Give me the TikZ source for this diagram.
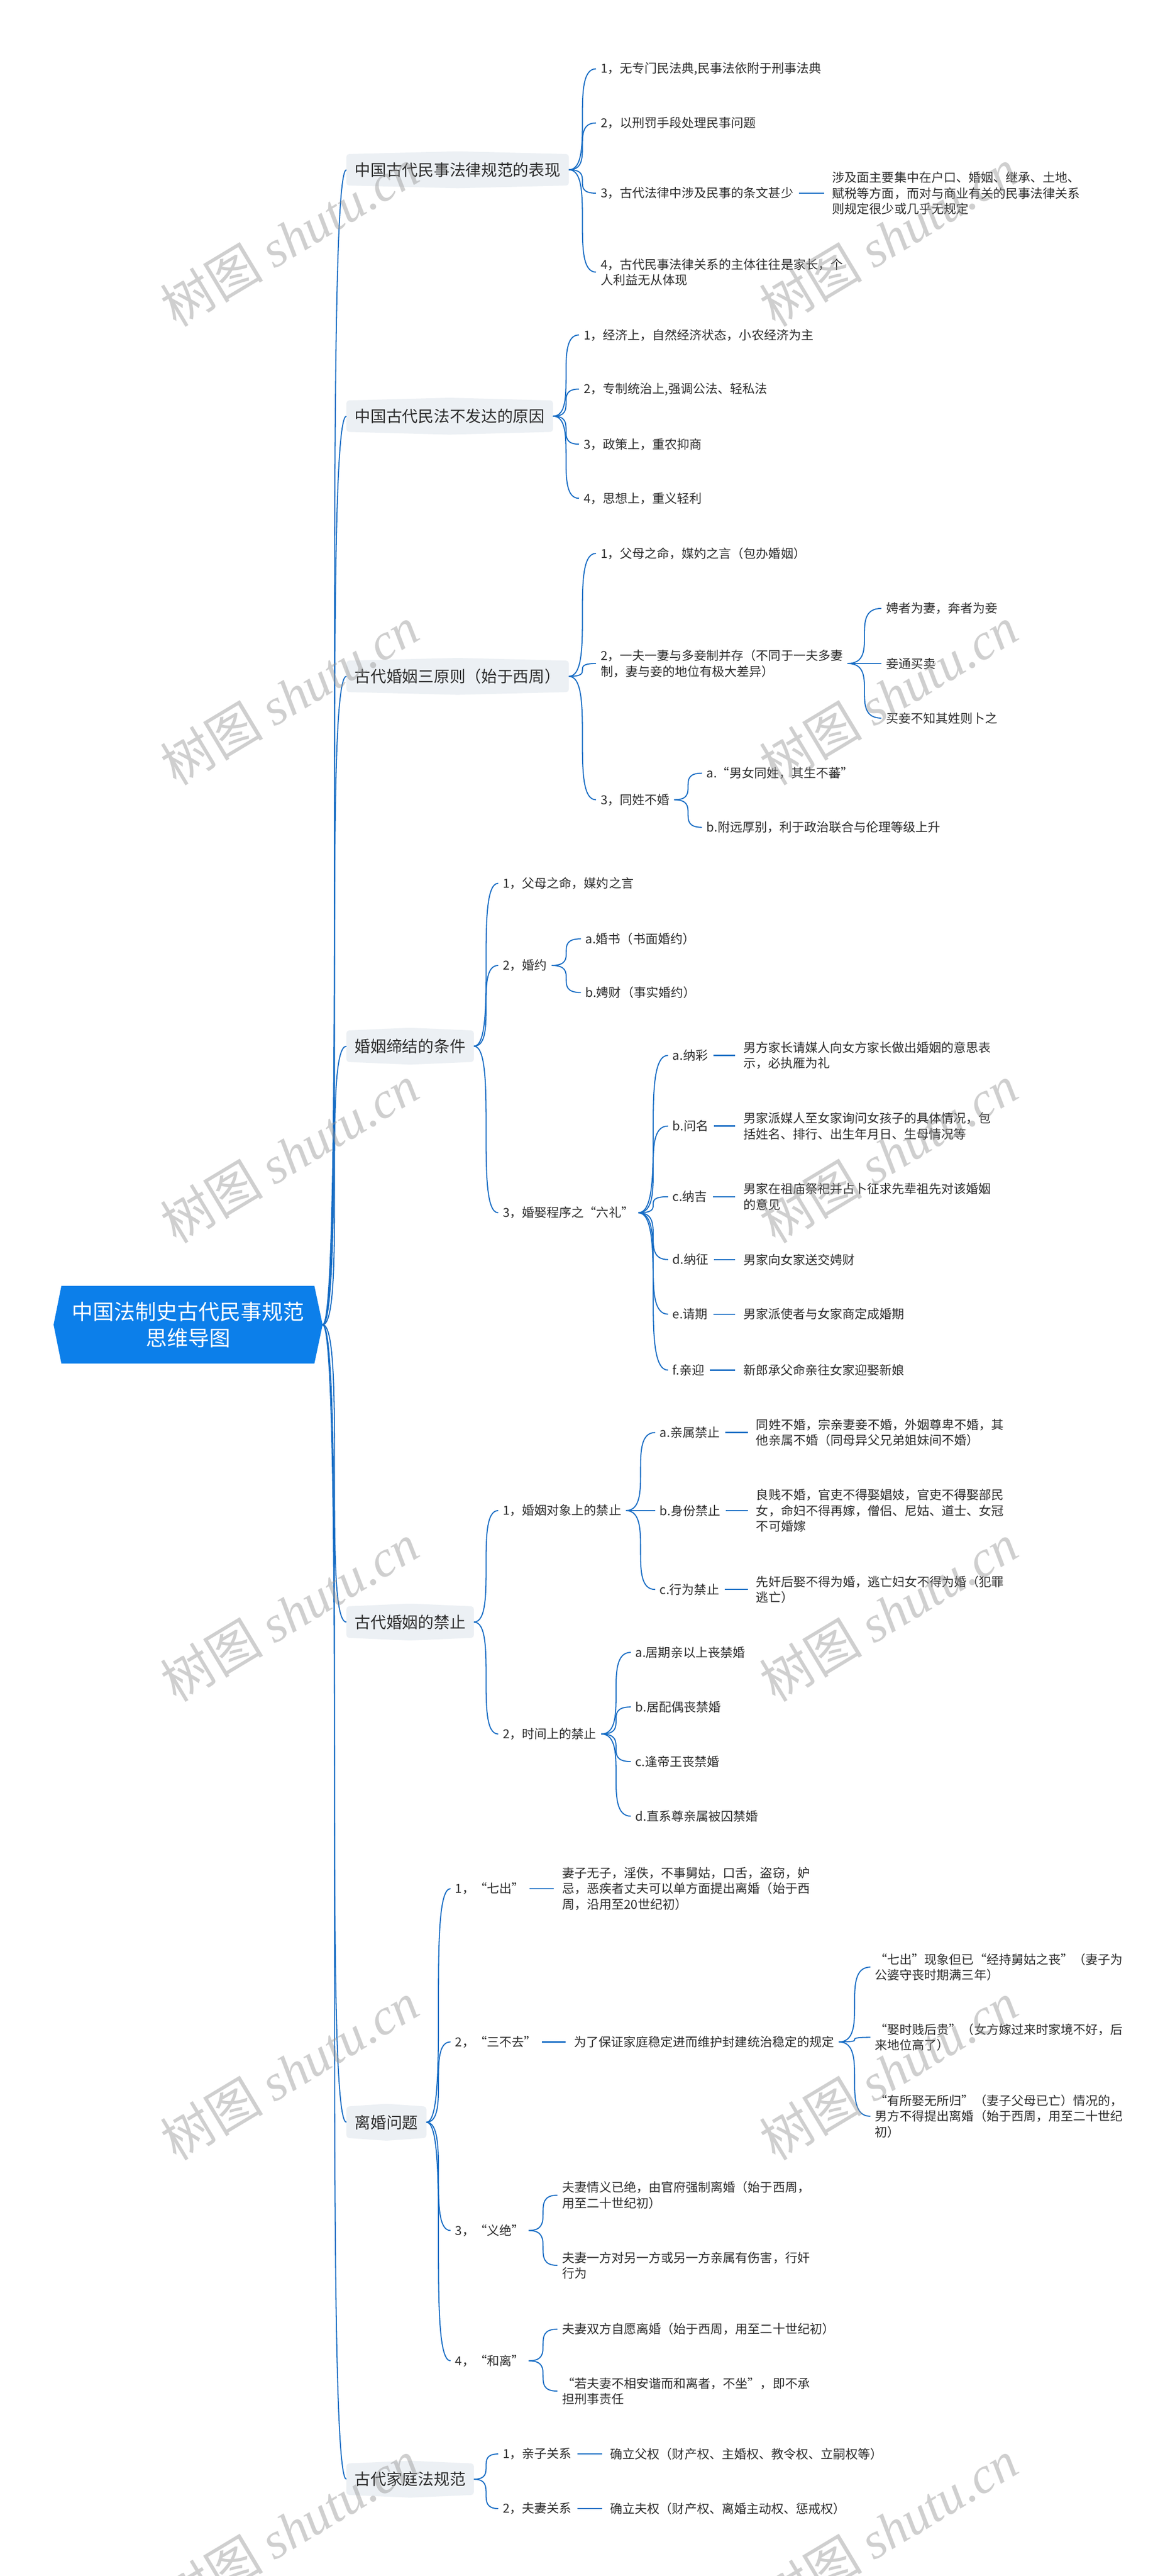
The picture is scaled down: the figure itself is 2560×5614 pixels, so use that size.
\documentclass[tikz,border=0pt]{standalone}
\usepackage{fontspec}
\setmainfont{Noto Sans CJK SC}
\newfontfamily\wmlat{Liberation Serif}
\usetikzlibrary{calc,backgrounds}
\definecolor{rootblue}{RGB}{12,127,234}
\definecolor{linkblue}{RGB}{22,108,196}
\definecolor{lonefill}{RGB}{236,240,244}
\definecolor{txt}{RGB}{45,45,45}
\definecolor{wm}{RGB}{150,150,150}
\tikzset{
  rootnode/.style={inner sep=0pt, minimum width=586pt, minimum height=169pt, text=white, align=center, font=\fontsize{46}{58}\selectfont},
  lone/.style={anchor=west, inner xsep=18pt, inner ysep=0pt, minimum height=68pt, text=txt, font=\fontsize{34.5}{42}\selectfont},
  ltwo/.style={anchor=west, inner xsep=10pt, inner ysep=3pt, text=txt, align=left, font=\fontsize{27}{34}\selectfont},
  conn/.style={draw=linkblue, line width=2.3pt},
  dline/.style={draw=linkblue, line width=2.8pt},
  wmark/.style={text=wm, opacity=0.45, rotate=31, inner sep=0pt}
}
\newcommand\cnx[2]{\draw[conn] let \p1=(#1.east), \p2=(#2.west) in (\p1) .. controls (\x2,\y1) and (\x1,\y2) .. (\p2);}
\newcommand\dln[2]{\draw[dline] let \p1=(#1.east), \p2=(#2.west) in (\x1+2pt,\y1) -- (\x2-8pt,\y1);}
\newcommand\hexbox[1]{\path[fill=lonefill, rounded corners=6pt] (#1.north west) -- ($(#1.north)+(0pt,6pt)$) -- (#1.north east) -- (#1.south east) -- ($(#1.south)+(0pt,-6pt)$) -- (#1.south west) -- cycle;}
\newcommand\wmtext{{\fontsize{112}{112}\selectfont 树图 {\wmlat\itshape shutu.cn}}}
\begin{document}
\begin{tikzpicture}[x=1pt,y=-1pt]
\useasboundingbox (0,0) rectangle (2560,5614);
\begin{pgfonlayer}{background}
\fill[white] (0,0) rectangle (2560,5614);
\end{pgfonlayer}

% root
\node[rootnode] (root) at (410,2887) {中国法制史古代民事规范\\思维导图};

% level 1
\node[lone] (la) at (755,370) {中国古代民事法律规范的表现};
\node[lone] (lb) at (755,907) {中国古代民法不发达的原因};
\node[lone] (lc) at (755,1474) {古代婚姻三原则（始于西周）};
\node[lone] (ld) at (755,2280) {婚姻缔结的条件};
\node[lone] (le) at (755,3535) {古代婚姻的禁止};
\node[lone] (lf) at (755,4625) {离婚问题};
\node[lone] (lg) at (755,5403) {古代家庭法规范};

% section a
\node[ltwo] (a1) at (1299,150) {1，无专门民法典,民事法依附于刑事法典};
\node[ltwo] (a2) at (1299,268) {2，以刑罚手段处理民事问题};
\node[ltwo] (a3) at (1299,421) {3，古代法律中涉及民事的条文甚少};
\node[ltwo] (a3d) at (1804,421) {涉及面主要集中在户口、婚姻、继承、土地、\\赋税等方面，而对与商业有关的民事法律关系\\则规定很少或几乎无规定};
\node[ltwo] (a4) at (1299,593) {4，古代民事法律关系的主体往往是家长，个\\人利益无从体现};

% section b
\node[ltwo] (b1) at (1262,730) {1，经济上，自然经济状态，小农经济为主};
\node[ltwo] (b2) at (1262,848) {2，专制统治上,强调公法、轻私法};
\node[ltwo] (b3) at (1262,968) {3，政策上，重农抑商};
\node[ltwo] (b4) at (1262,1086) {4，思想上，重义轻利};

% section c
\node[ltwo] (c1) at (1299,1206) {1，父母之命，媒妁之言（包办婚姻）};
\node[ltwo] (c2) at (1299,1446) {2，一夫一妻与多妾制并存（不同于一夫多妻\\制，妻与妾的地位有极大差异）};
\node[ltwo] (c2a) at (1921,1326) {娉者为妻，奔者为妾};
\node[ltwo] (c2b) at (1921,1446) {妾通买卖};
\node[ltwo] (c2c) at (1921,1565) {买妾不知其姓则卜之};
\node[ltwo] (c3) at (1299,1743) {3，同姓不婚};
\node[ltwo] (c3a) at (1530,1685) {a.“男女同姓，其生不蕃”};
\node[ltwo] (c3b) at (1530,1803) {b.附远厚别，利于政治联合与伦理等级上升};

% section d
\node[ltwo] (d1) at (1086,1925) {1，父母之命，媒妁之言};
\node[ltwo] (d2) at (1086,2104) {2，婚约};
\node[ltwo] (d2a) at (1266,2046) {a.婚书（书面婚约）};
\node[ltwo] (d2b) at (1266,2163) {b.娉财（事实婚约）};
\node[ltwo] (d3) at (1086,2643) {3，婚娶程序之“六礼”};
\node[ltwo] (d3a) at (1456,2300) {a.纳彩};
\node[ltwo] (d3ad) at (1610,2300) {男方家长请媒人向女方家长做出婚姻的意思表\\示，必执雁为礼};
\node[ltwo] (d3b) at (1456,2454) {b.问名};
\node[ltwo] (d3bd) at (1610,2454) {男家派媒人至女家询问女孩子的具体情况，包\\括姓名、排行、出生年月日、生母情况等};
\node[ltwo] (d3c) at (1456,2608) {c.纳吉};
\node[ltwo] (d3cd) at (1610,2608) {男家在祖庙祭祀并占卜征求先辈祖先对该婚姻\\的意见};
\node[ltwo] (d3d) at (1456,2745) {d.纳征};
\node[ltwo] (d3dd) at (1610,2745) {男家向女家送交娉财};
\node[ltwo] (d3e) at (1456,2864) {e.请期};
\node[ltwo] (d3ed) at (1610,2864) {男家派使者与女家商定成婚期};
\node[ltwo] (d3f) at (1456,2986) {f.亲迎};
\node[ltwo] (d3fd) at (1610,2986) {新郎承父命亲往女家迎娶新娘};

% section e
\node[ltwo] (e1) at (1086,3292) {1，婚姻对象上的禁止};
\node[ltwo] (e1a) at (1428,3122) {a.亲属禁止};
\node[ltwo] (e1ad) at (1638,3122) {同姓不婚，宗亲妻妾不婚，外姻尊卑不婚，其\\他亲属不婚（同母异父兄弟姐妹间不婚）};
\node[ltwo] (e1b) at (1428,3292) {b.身份禁止};
\node[ltwo] (e1bd) at (1638,3292) {良贱不婚，官吏不得娶娼妓，官吏不得娶部民\\女，命妇不得再嫁，僧侣、尼姑、道士、女冠\\不可婚嫁};
\node[ltwo] (e1c) at (1428,3464) {c.行为禁止};
\node[ltwo] (e1cd) at (1638,3464) {先奸后娶不得为婚，逃亡妇女不得为婚（犯罪\\逃亡）};
\node[ltwo] (e2) at (1086,3779) {2，时间上的禁止};
\node[ltwo] (e2a) at (1375,3601) {a.居期亲以上丧禁婚};
\node[ltwo] (e2b) at (1375,3720) {b.居配偶丧禁婚};
\node[ltwo] (e2c) at (1375,3839) {c.逢帝王丧禁婚};
\node[ltwo] (e2d) at (1375,3958) {d.直系尊亲属被囚禁婚};

% section f
\node[ltwo] (f1) at (982,4116) {1，“七出”};
\node[ltwo] (f1d) at (1215,4116) {妻子无子，淫佚，不事舅姑，口舌，盗窃，妒\\忌，恶疾者丈夫可以单方面提出离婚（始于西\\周，沿用至20世纪初）};
\node[ltwo] (f2) at (982,4450) {2，“三不去”};
\node[ltwo] (f2d) at (1241,4450) {为了保证家庭稳定进而维护封建统治稳定的规定};
\node[ltwo] (f2a) at (1897,4287) {“七出”现象但已“经持舅姑之丧”（妻子为\\公婆守丧时期满三年）};
\node[ltwo] (f2b) at (1897,4440) {“娶时贱后贵”（女方嫁过来时家境不好，后\\来地位高了）};
\node[ltwo] (f2c) at (1897,4612) {“有所娶无所归”（妻子父母已亡）情况的，\\男方不得提出离婚（始于西周，用至二十世纪\\初）};
\node[ltwo] (f3) at (982,4861) {3，“义绝”};
\node[ltwo] (f3a) at (1215,4784) {夫妻情义已绝，由官府强制离婚（始于西周，\\用至二十世纪初）};
\node[ltwo] (f3b) at (1215,4937) {夫妻一方对另一方或另一方亲属有伤害，行奸\\行为};
\node[ltwo] (f4) at (982,5145) {4，“和离”};
\node[ltwo] (f4a) at (1215,5076) {夫妻双方自愿离婚（始于西周，用至二十世纪初）};
\node[ltwo] (f4b) at (1215,5211) {“若夫妻不相安谐而和离者，不坐”，即不承\\担刑事责任};

% section g
\node[ltwo] (g1) at (1086,5348) {1，亲子关系};
\node[ltwo] (g1d) at (1320,5348) {确立父权（财产权、主婚权、教令权、立嗣权等）};
\node[ltwo] (g2) at (1086,5467) {2，夫妻关系};
\node[ltwo] (g2d) at (1320,5467) {确立夫权（财产权、离婚主动权、惩戒权）};

% shapes behind
\begin{pgfonlayer}{background}
\path[fill=rootblue] ($(root.north west)+(17pt,0pt)$) -- ($(root.north east)+(-18pt,0pt)$) -- (root.east) -- ($(root.south east)+(-18pt,0pt)$) -- ($(root.south west)+(17pt,0pt)$) -- (root.west) -- cycle;
\foreach \nA in {la,lb,lc,ld,le,lf,lg} {\hexbox{\nA}}
\end{pgfonlayer}

% connectors
\foreach \nA/\nB in {root/la,root/lb,root/lc,root/ld,root/le,root/lf,root/lg,
  la/a1,la/a2,la/a3,la/a4,
  lb/b1,lb/b2,lb/b3,lb/b4,
  lc/c1,lc/c2,lc/c3,c2/c2a,c2/c2b,c2/c2c,c3/c3a,c3/c3b,
  ld/d1,ld/d2,ld/d3,d2/d2a,d2/d2b,d3/d3a,d3/d3b,d3/d3c,d3/d3d,d3/d3e,d3/d3f,
  le/e1,le/e2,e1/e1a,e1/e1b,e1/e1c,e2/e2a,e2/e2b,e2/e2c,e2/e2d,
  lf/f1,lf/f2,lf/f3,lf/f4,f2d/f2a,f2d/f2b,f2d/f2c,f3/f3a,f3/f3b,f4/f4a,f4/f4b,
  lg/g1,lg/g2} {\cnx{\nA}{\nB}}
\foreach \nA/\nB in {a3/a3d,d3a/d3ad,d3b/d3bd,d3c/d3cd,d3d/d3dd,d3e/d3ed,d3f/d3fd,
  e1a/e1ad,e1b/e1bd,e1c/e1cd,f1/f1d,f2/f2d,g1/g1d,g2/g2d} {\dln{\nA}{\nB}}

% watermarks
\foreach \i in {0,...,5} {
  \node[wmark] (wl\i) at (631,517+999*\i) {\wmtext};
  \node[wmark] (wr\i) at (1937,517+999*\i) {\wmtext};
}
\end{tikzpicture}
\end{document}
